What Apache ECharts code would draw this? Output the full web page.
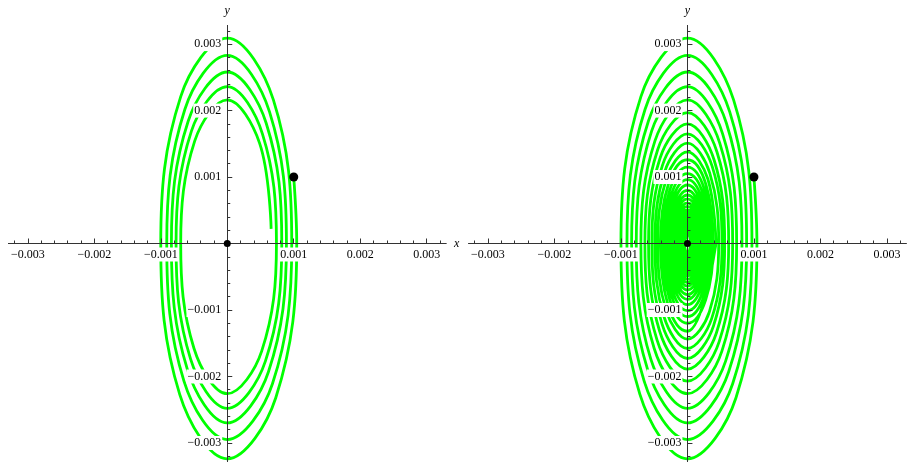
<!DOCTYPE html>
<html>
<head>
<meta charset="utf-8">
<script src="https://cdn.jsdelivr.net/npm/echarts@6/dist/echarts.min.js"></script>
<style>html,body{margin:0;padding:0;background:#fff;}#c{width:913px;height:464px;}</style>
</head>
<body>
<div id="c"></div>
<script>
// all values in units of 1e-3
const UNIT = 1e-3;
const startPoint = [1.0, 1.0];
const originPoint = [0, 0];
// x where each turn crosses y=0 on the right (going down)
const rightX = [1.045,0.97,0.89,0.82,0.74,0.68,0.62,0.56,0.52,0.47,0.43,0.39,0.36,0.33,0.30,0.27,0.25,0.23,0.21,0.19,0.18,0.16,0.15,0.13,0.12,0.11,0.10,0.09,0.085,0.078,0.071,0.065,0.059,0.054,0.050,0.045];
// lowest y of each turn
const bottomY = [-3.24,-2.95,-2.70,-2.48,-2.26,-2.07,-1.89,-1.73,-1.58,-1.44,-1.32,-1.20,-1.10,-1.01,-0.92,-0.84,-0.77,-0.70,-0.64,-0.59,-0.54,-0.49,-0.45,-0.41,-0.37,-0.34,-0.31,-0.29,-0.26,-0.24,-0.22,-0.20,-0.18,-0.17,-0.15,-0.14];
// x where each turn crosses y=0 on the left (going up)
const leftX = [-1.00,-0.91,-0.84,-0.77,-0.70,-0.64,-0.585,-0.535,-0.489,-0.447,-0.408,-0.373,-0.341,-0.312,-0.285,-0.261,-0.238,-0.218,-0.199,-0.182,-0.166,-0.152,-0.139,-0.127,-0.116,-0.106,-0.097,-0.089,-0.081,-0.074,-0.068,-0.062,-0.057,-0.052,-0.047,-0.043];
// highest y of each turn
const topY = [3.09,2.83,2.58,2.36,2.16,1.97,1.80,1.65,1.51,1.38,1.26,1.15,1.05,0.96,0.88,0.80,0.73,0.67,0.61,0.56,0.51,0.47,0.43,0.39,0.36,0.33,0.30,0.27,0.25,0.23,0.21,0.19,0.17,0.16,0.15,0.13];
// diagonal points of the outer turns
const lowerRight = [[0.73,-2.32],[0.68,-2.11],[0.62,-1.93],[0.574,-1.77],[0.518,-1.62],[0.476,-1.48],[0.434,-1.35],[0.392,-1.24],[0.364,-1.13],[0.329,-1.03]];
const lowerLeft = [[-0.715,-2.27],[-0.651,-2.07],[-0.601,-1.89],[-0.551,-1.74],[-0.50,-1.58],[-0.458,-1.45],[-0.418,-1.32],[-0.383,-1.21],[-0.350,-1.11],[-0.320,-1.01]];
const upperLeft = [[-0.70,2.21],[-0.637,2.02],[-0.588,1.84],[-0.539,1.69],[-0.49,1.54],[-0.448,1.41],[-0.41,1.29],[-0.375,1.18],[-0.342,1.08],[-0.313,0.99]];
const upperRight = [[0.694,2.16],[0.636,1.98],[0.586,1.81],[0.529,1.65],[0.486,1.51],[0.443,1.38],[0.40,1.26],[0.372,1.16],[0.336,1.06],[0.307,0.97]];
const leftTurns = 5;
const leftEnd = [0.66, 0.22];
const detailedTurns = 10;
const rightTurns = 36;
const majorTicks = [-3,-2,-1,1,2,3];
const minorTicks = [-3.2,-2.8,-2.6,-2.4,-2.2,-1.8,-1.6,-1.4,-1.2,-0.8,-0.6,-0.4,-0.2,0.2,0.4,0.6,0.8,1.2,1.4,1.6,1.8,2.2,2.4,2.6,2.8,3.2];
const xRange = 3.29, yRange = 3.28;

const P = p => [p[0]*UNIT, p[1]*UNIT];
// outer turns: 8 points per turn
function detailed(turns) {
  const pts = [P(startPoint)];
  for (let i = 0; i < turns; i++) {
    pts.push(P([rightX[i], 0]), P(lowerRight[i]), P([0, bottomY[i]]), P(lowerLeft[i]),
             P([leftX[i], 0]), P(upperLeft[i]), P([0, topY[i]]), P(upperRight[i]));
  }
  return pts;
}
// inner turns: 4 points per turn
function coarse(from, to) {
  const pts = [];
  for (let i = from; i < to; i++) {
    pts.push(P([rightX[i], 0]), P([0, bottomY[i]]), P([leftX[i], 0]), P([0, topY[i]]));
  }
  return pts;
}
const leftCurve = detailed(leftTurns).concat([P(leftEnd)]);
const rightOuter = detailed(detailedTurns).concat([P([rightX[detailedTurns], 0])]);
const rightInner = coarse(detailedTurns, rightTurns);

const maj = majorTicks.map(v => v*UNIT);
const mnr = minorTicks.map(v => v*UNIT);
const fmt = v => (v < 0 ? '\u2212' : '') + Math.abs(v).toFixed(3);
const FONT = 'Liberation Serif';
const lineCol = '#333';
const GT = 25.5, GH = 436, GW = 437.5, GL = [8.5, 468.7];

function xAxes(g) {
  const base = {gridIndex: g, type: 'value', position: 'bottom', offset: -GH/2,
    min: -xRange*UNIT, max: xRange*UNIT, z: 5, splitLine: {show: false},
    axisLine: {onZero: false, lineStyle: {color: lineCol, width: 1}}};
  return [Object.assign({}, base, {
    axisTick: {customValues: maj, inside: true, length: 5, lineStyle: {color: lineCol}},
    axisLabel: {customValues: maj, formatter: fmt, color: '#000', fontFamily: FONT, fontSize: 12,
      backgroundColor: '#fff', padding: [1, 1], margin: 4},
    name: g === 0 ? 'x' : '', nameLocation: 'end', nameGap: 8,
    nameTextStyle: {fontFamily: FONT, fontStyle: 'italic', fontSize: 12, color: '#000'}
  }), Object.assign({}, base, {
    axisTick: {customValues: mnr, inside: true, length: 3, lineStyle: {color: lineCol}},
    axisLabel: {show: false}
  })];
}
function yAxes(g) {
  const base = {gridIndex: g, type: 'value', position: 'left', offset: -GW/2,
    min: -yRange*UNIT, max: yRange*UNIT, z: 5, splitLine: {show: false},
    axisLine: {onZero: false, lineStyle: {color: lineCol, width: 1}}};
  return [Object.assign({}, base, {
    axisTick: {customValues: maj, inside: true, length: 5, lineStyle: {color: lineCol}},
    axisLabel: {customValues: maj, formatter: fmt, color: '#000', fontFamily: FONT, fontSize: 12,
      backgroundColor: '#fff', padding: [1, 1], margin: 5},
    name: 'y', nameLocation: 'end', nameGap: 9,
    nameTextStyle: {fontFamily: FONT, fontStyle: 'italic', fontSize: 12, color: '#000'}
  }), Object.assign({}, base, {
    axisTick: {customValues: mnr, inside: true, length: 3, lineStyle: {color: lineCol}},
    axisLabel: {show: false}
  })];
}
function curve(g, data, smooth) {
  return {type: 'line', xAxisIndex: g*2, yAxisIndex: g*2, data: data, smooth: smooth,
    symbol: 'none', showSymbol: false, silent: true, z: 2,
    lineStyle: {color: '#00ff00', width: 2.8}};
}
function dots(g) {
  return [{type: 'scatter', xAxisIndex: g*2, yAxisIndex: g*2, z: 10, silent: true,
    data: [P(startPoint)], symbolSize: 9, itemStyle: {color: '#000', opacity: 1}},
  {type: 'scatter', xAxisIndex: g*2, yAxisIndex: g*2, z: 10, silent: true,
    data: [P(originPoint)], symbolSize: 7, itemStyle: {color: '#000', opacity: 1}}];
}
const chart = echarts.init(document.getElementById('c'), null, {renderer: 'canvas'});
chart.setOption({
  animation: false,
  backgroundColor: '#fff',
  grid: GL.map(l => ({left: l, top: GT, width: GW, height: GH, containLabel: false, outerBoundsMode: 'none'})),
  xAxis: xAxes(0).concat(xAxes(1)),
  yAxis: yAxes(0).concat(yAxes(1)),
  series: [curve(0, leftCurve, 0.375), curve(1, rightOuter, 0.375), curve(1, rightInner, 0.552)]
    .concat(dots(0), dots(1))
});
</script>
</body>
</html>
